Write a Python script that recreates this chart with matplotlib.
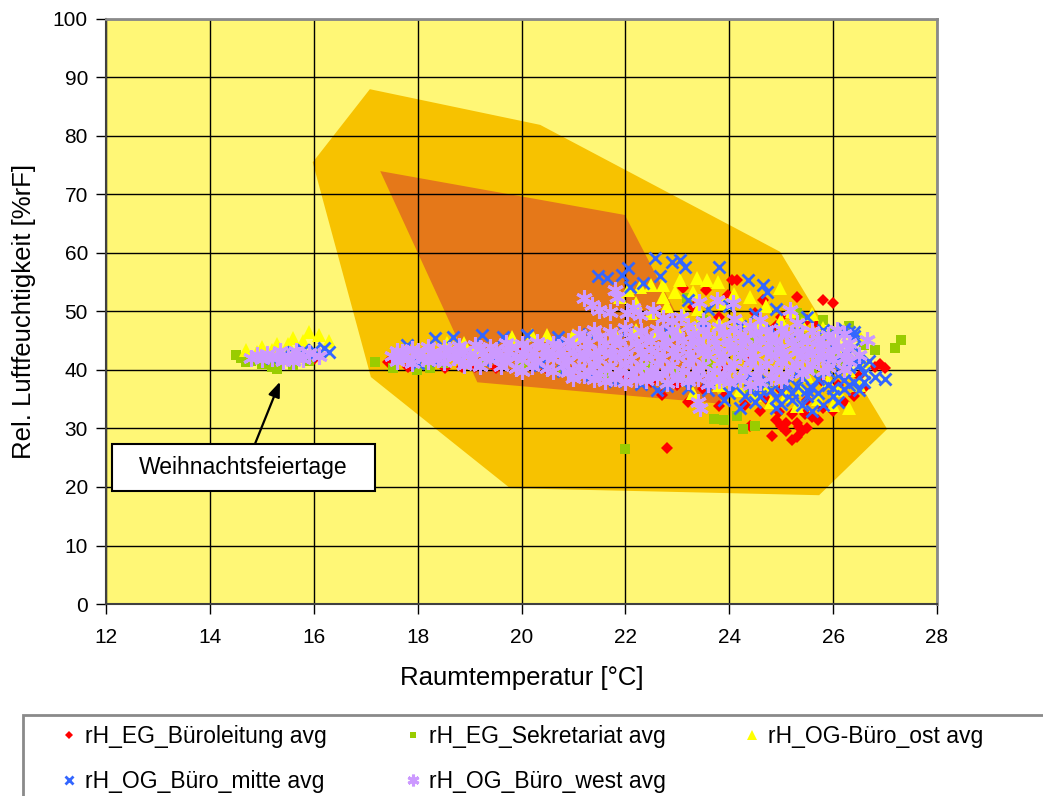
import matplotlib
matplotlib.use("Agg")
import matplotlib.pyplot as plt
from matplotlib.patches import Polygon, Rectangle

plt.rcParams['font.family'] = ['Liberation Sans', 'DejaVu Sans']

# ---------------- data ----------------
x_ticks = [12, 14, 16, 18, 20, 22, 24, 26, 28]
y_ticks = [0, 10, 20, 30, 40, 50, 60, 70, 80, 90, 100]

outer_zone_x = [17.08, 20.36, 24.98, 27.04, 25.73, 19.78, 17.10, 15.98]
outer_zone_y = [88.0, 81.9, 60.2, 29.9, 18.6, 19.8, 38.8, 75.5]
inner_zone_x = [17.28, 21.99, 23.88, 19.15]
inner_zone_y = [74.0, 66.5, 34.2, 37.9]

red_x = [14.8, 15.0, 15.5, 15.8, 16.0,
         17.43, 17.81, 18.53, 18.85, 19.1, 19.5, 20.02, 20.5, 21.0, 21.5, 22.0, 22.5, 23.0, 23.5,
         23.9, 24.3, 24.4, 24.6, 24.82, 24.9, 25.0, 25.1, 25.2, 25.3, 25.4, 25.3, 25.5, 25.2, 25.6,
         25.8, 26.0, 26.2, 26.4, 26.6, 26.5, 26.8, 27.0, 26.9, 25.0, 24.7, 25.5, 26.1, 25.8, 22.8,
         23.8, 23.2, 22.7, 23.9, 24.4, 22.3, 25.1, 25.35, 25.45, 24.95, 25.7,
         24.05, 24.15, 23.56, 23.1, 23.98, 24.65, 25.3, 25.8, 26.0, 23.3, 24.5, 25.0, 25.5, 23.8,
         24.9, 25.7]
red_y = [42.3, 42.0, 41.5, 42.0, 41.8,
         41.4, 40.5, 40.3, 40.5, 40.5, 40.3, 43.4, 40.2, 39.8, 39.0, 38.5, 38.0, 37.5, 36.8,
         35.5, 34.0, 30.5, 33.0, 28.7, 31.5, 30.5, 29.5, 28.0, 28.5, 29.5, 31.0, 30.0, 32.5, 32.0,
         33.5, 33.0, 34.5, 35.5, 37.0, 39.0, 40.5, 40.3, 41.0, 36.5, 35.0, 34.8, 37.5, 38.0, 26.7,
         33.8, 34.5, 35.8, 40.5, 41.5, 40.0, 31.0, 30.2, 32.5, 32.8, 31.5,
         55.4, 55.4, 53.7, 54.0, 52.8, 52.0, 52.5, 52.0, 51.4, 50.8, 49.8, 49.0, 48.5, 49.0,
         47.5, 47.8]

green_x = [14.5, 14.6, 14.8, 15.0, 15.2, 15.3, 15.6, 15.9, 16.0, 14.7,
           17.18, 17.53, 17.98, 18.24, 18.5, 19.2, 20.0, 20.8, 21.6, 22.4, 23.0, 23.6, 24.2, 24.8,
           25.4, 25.9, 26.3, 22.0, 23.7, 23.9, 24.15, 24.27, 24.5, 26.8, 27.2, 27.3, 26.6, 23.18,
           25.3, 25.36, 25.0, 23.5, 22.8, 24.5, 25.8, 26.0, 25.6, 24.4, 23.2, 26.2]
green_y = [42.5, 42.0, 41.5, 41.0, 40.5, 40.2, 40.8, 41.5, 42.5, 41.3,
           41.4, 40.3, 40.0, 40.3, 41.2, 41.0, 40.5, 40.0, 39.5, 40.5, 39.5, 41.0, 42.5, 44.0,
           45.5, 46.5, 47.5, 26.5, 31.6, 31.5, 32.1, 29.9, 30.5, 43.4, 43.8, 45.1, 44.2, 52.3,
           49.7, 49.1, 47.5, 48.5, 45.8, 45.5, 48.5, 43.0, 40.0, 37.0, 38.0, 41.5]

yellow_x = [14.7, 15.0, 15.3, 15.6, 15.9, 16.1, 16.3, 15.2, 15.5, 15.8, 14.9,
            18.56, 18.9, 19.1, 19.82, 20.2, 20.5, 21.0, 21.4, 21.8, 22.2, 22.6, 23.0, 23.4, 23.8,
            24.2, 24.6, 25.0, 25.4, 25.8, 26.2, 26.5, 26.6, 26.3,
            22.05, 22.28, 22.5, 22.72, 22.95, 23.05, 23.3, 23.37, 23.57, 23.78, 24.98, 22.72, 22.2,
            22.8, 23.4, 23.9, 24.4, 24.7, 25.2, 23.1, 22.5, 21.9, 24.1, 25.6,
            23.8, 24.2, 24.5, 24.8, 25.1, 25.4, 25.7, 26.0, 26.3, 25.3, 24.7, 26.1, 26.5, 25.9, 25.5,
            24.3, 23.3]
yellow_y = [43.5, 44.0, 44.5, 45.5, 46.5, 46.0, 45.0, 43.5, 44.5, 45.0, 43.0,
            44.6, 44.6, 43.9, 45.6, 46.0, 46.0, 46.0, 46.5, 46.2, 46.8, 46.4, 47.0, 47.6, 48.0,
            48.6, 48.2, 48.5, 47.8, 47.2, 46.8, 46.0, 41.5, 40.0,
            53.7, 54.2, 54.5, 54.5, 53.3, 55.4, 53.3, 55.7, 55.4, 55.0, 54.0, 52.5, 51.5,
            51.0, 50.5, 51.5, 52.5, 51.0, 50.0, 49.5, 49.8, 52.5, 53.0, 49.5,
            37.5, 36.5, 35.8, 34.5, 35.5, 36.8, 35.0, 34.0, 33.5, 33.8, 37.5, 36.5, 37.5, 38.2, 39.0,
            38.8, 36.0]

blue_x = [15.4, 15.6, 15.8, 16.0, 16.2, 16.3, 15.9, 15.2,
          17.8, 18.33, 18.68, 19.24, 19.65, 20.1, 20.7, 21.3, 22.0, 22.8, 23.5, 24.2, 24.8, 25.3,
          25.9, 26.3, 26.4,
          18.0, 18.4, 18.8, 19.45, 19.84, 20.36, 20.8, 21.3, 21.8, 22.3, 22.8, 23.2, 23.6, 24.0,
          24.3, 24.6, 24.9, 25.2, 25.5, 25.8, 25.6, 26.0, 25.0, 24.5, 24.2, 26.2, 26.4, 26.6, 26.8,
          27.0, 26.3, 26.7, 25.7, 25.9, 26.1, 25.4, 25.1, 24.7, 24.4, 26.5, 26.2, 25.9, 26.4, 26.0,
          26.4, 25.8, 22.6, 23.9, 24.1, 23.4,
          25.6, 25.9, 26.2, 26.5, 25.3, 26.0, 26.6, 24.8, 25.2,
          24.4, 24.6, 25.0, 25.3, 25.5, 25.7, 26.0, 26.3, 26.5, 26.1, 25.4, 24.9,
          21.47, 21.64, 21.93, 22.05, 22.09, 22.34, 22.57, 22.67, 22.9, 23.05, 23.15, 23.8, 24.36,
          24.65, 24.72, 23.2, 24.0, 24.5, 23.6, 24.9, 25.5, 26.2]
blue_y = [42.5, 43.0, 43.5, 43.5, 43.8, 43.0, 42.5, 42.0,
          44.3, 45.4, 45.6, 46.0, 45.6, 46.0, 45.6, 46.2, 46.5, 46.8, 47.2, 47.5, 47.0, 46.5,
          46.0, 46.5, 45.8,
          41.2, 41.7, 42.9, 41.7, 42.6, 40.9, 39.8, 38.8, 38.2, 37.6, 37.3, 37.0, 36.5, 36.0,
          35.5, 36.8, 35.2, 36.0, 35.5, 34.0, 33.0, 35.5, 34.2, 34.5, 33.5, 36.8, 38.0, 39.5, 38.8,
          38.4, 40.5, 41.5, 38.5, 39.8, 39.2, 38.8, 37.8, 38.3, 39.0, 42.2, 43.0, 42.0, 44.0, 44.5,
          46.5, 46.8, 36.5, 34.8, 37.5, 38.8,
          37.0, 37.5, 38.3, 40.8, 39.5, 41.0, 38.0, 36.5, 34.8,
          36.5, 35.5, 36.2, 37.2, 36.5, 36.0, 37.0, 37.5, 36.5, 34.5, 34.0, 33.5,
          56.0, 55.7, 56.2, 57.4, 54.2, 54.9, 59.1, 56.0, 58.5, 58.8, 57.6, 57.6, 55.4,
          54.5, 53.3, 52.0, 51.0, 49.5, 50.5, 50.5, 49.0, 47.0]

purple_x = [14.9, 15.1, 15.3, 15.5, 15.7, 15.9, 16.1, 15.0, 15.4, 15.6, 15.2, 15.8, 14.8, 15.35, 15.65,
            17.6, 17.9, 18.2, 18.5, 18.8, 19.1, 19.4, 19.7, 20.0, 20.3, 20.6, 20.9, 21.2, 21.5, 21.8,
            22.1, 22.4, 22.7, 23.0, 23.3, 23.6, 23.9, 24.2, 24.5, 24.8, 25.1, 25.4, 25.7, 26.0, 26.3,
            17.7, 18.0, 18.3, 18.6, 18.9, 19.2, 19.5, 19.8, 20.1, 20.4, 20.7, 21.0, 21.3, 21.6, 21.9,
            22.2, 22.5, 22.8, 23.1, 23.4, 23.7, 24.0, 24.3, 24.6, 24.9, 25.2, 25.5, 25.8, 26.1,
            17.5, 17.75, 18.0, 18.25, 18.5, 18.75, 19.0, 19.25, 19.5, 19.75, 20.0, 20.25, 20.5, 20.75,
            21.0, 21.25, 21.5, 21.75, 22.0, 22.25, 22.5, 22.75, 23.0, 23.25, 23.5, 23.75, 24.0, 24.25,
            24.5, 24.75, 25.0, 25.25, 25.5, 25.75, 26.0, 26.25, 26.5,
            17.8, 18.1, 18.4, 18.7, 19.0, 19.3, 19.6, 19.9, 20.2, 20.5, 20.8, 21.1, 21.4, 21.7, 22.0,
            22.3, 22.6, 22.9, 23.2, 23.5, 23.8, 24.1, 24.4, 24.7, 25.0, 25.3, 25.6, 25.9, 26.2,
            17.6, 17.9, 18.2, 18.5, 18.8, 19.1, 19.4, 19.7, 20.0, 20.3, 20.6, 20.9, 21.2, 21.5, 21.8,
            22.1, 22.4, 22.7, 23.0, 23.3, 23.6, 23.9, 24.2, 24.5, 24.8, 25.1, 25.4, 25.7, 26.0, 26.3,
            18.9, 19.2, 20.0, 20.6, 21.0, 21.3, 21.6, 21.9, 22.2, 22.5, 22.8, 23.1, 23.4, 23.7, 24.0,
            24.3, 24.6, 24.9, 25.2, 25.5, 25.8,
            19.6, 19.9, 20.2, 20.5, 20.8, 21.1, 21.4, 21.7, 22.0, 22.3, 22.6, 22.9, 23.2, 23.5, 23.8,
            24.1, 24.4, 24.7, 25.0, 25.3, 25.6, 25.9, 26.2,
            20.9, 21.2, 21.5, 21.8, 22.1, 22.4, 22.7, 23.0, 23.3, 23.6, 23.9, 24.2, 24.5, 24.8, 25.1, 25.4,
            21.0, 21.4, 21.8, 22.2, 22.6, 23.0, 23.4, 23.8, 24.2, 24.6, 25.0,
            21.6, 22.0, 22.4, 22.8, 23.2, 23.6, 24.0, 24.4,
            23.43, 23.4,
            21.1, 21.7, 22.3, 22.9, 23.5, 24.1, 24.7, 25.3, 25.9,
            21.4, 22.0, 22.6, 23.2, 23.8, 24.4, 25.0, 25.6, 26.2, 26.65, 23.5, 24.1, 24.6, 25.3, 22.9,
            21.2, 21.35, 21.5, 21.7, 21.8, 21.84, 22.03, 22.15, 22.28, 22.54, 22.72, 23.08, 23.42,
            23.76, 24.07, 25.17, 26.07]
purple_y = [42.5, 42.8, 42.4, 42.3, 42.6, 42.9, 42.4, 41.8, 41.5, 41.6, 42.0, 41.9, 42.0, 43.2, 43.3,
            43.2, 43.6, 43.9, 43.7, 44.1, 44.3, 44.0, 44.6, 44.4, 44.8, 44.5, 45.0, 45.3, 45.6, 45.4,
            45.8, 45.5, 46.0, 45.7, 46.2, 45.9, 46.3, 46.0, 46.4, 45.8, 46.1, 45.6, 45.3, 45.0, 44.6,
            43.0, 43.3, 43.1, 43.5, 43.3, 43.7, 43.5, 43.9, 43.7, 44.1, 43.9, 44.3, 44.6, 44.4, 44.8,
            44.6, 45.0, 44.8, 45.2, 44.9, 45.3, 45.0, 45.4, 45.1, 45.0, 44.8, 44.9, 44.4, 44.0,
            42.4, 42.8, 42.5, 42.9, 42.6, 43.0, 42.7, 43.1, 42.8, 43.2, 42.9, 43.3, 43.0, 43.4,
            43.1, 43.6, 43.3, 43.8, 43.5, 44.0, 43.6, 44.1, 43.7, 44.2, 43.8, 44.3, 43.9, 44.4,
            44.0, 44.2, 43.8, 44.1, 43.6, 43.9, 43.4, 43.0, 42.6,
            41.9, 42.1, 41.9, 42.2, 41.9, 42.2, 41.9, 42.3, 42.0, 42.4, 42.1, 42.6, 42.4, 42.8, 42.5,
            42.9, 42.6, 43.0, 42.7, 43.1, 42.8, 43.2, 42.9, 43.2, 42.9, 43.1, 42.7, 42.4, 42.0,
            41.5, 41.2, 41.6, 41.3, 41.7, 41.4, 41.8, 41.5, 41.9, 41.6, 42.0, 41.7, 42.1, 41.8, 42.2,
            41.9, 42.3, 42.0, 42.4, 42.1, 42.5, 42.2, 42.6, 42.3, 42.5, 42.2, 42.4, 42.0, 41.8, 41.5,
            40.9, 40.7, 39.9, 39.8, 40.0, 39.9, 40.1, 39.8, 40.1, 39.9, 40.2, 39.9, 40.2, 39.9, 40.3,
            40.0, 40.2, 40.0, 40.3, 40.0, 39.8,
            40.6, 40.3, 40.7, 40.4, 40.8, 40.5, 40.9, 40.6, 41.0, 40.7, 41.1, 40.8, 41.2, 40.9, 41.3,
            41.0, 41.4, 41.1, 41.3, 41.0, 40.8, 40.5, 40.2,
            39.6, 39.2, 39.5, 39.1, 39.4, 39.0, 39.3, 38.9, 39.2, 38.8, 39.1, 38.7, 39.0, 38.8, 39.2, 39.5,
            38.6, 38.4, 38.7, 38.5, 38.8, 38.4, 38.6, 38.3, 38.5, 38.0, 38.3,
            38.2, 37.9, 38.3, 37.8, 38.1, 37.6, 37.9, 37.5,
            33.5, 34.5,
            46.2, 46.5, 46.6, 46.9, 46.8, 47.0, 46.9, 46.5, 46.0,
            46.8, 47.2, 47.0, 47.5, 47.3, 47.6, 47.0, 46.6, 46.2, 45.1, 48.3, 48.8, 48.5, 48.0, 48.4,
            52.3, 51.1, 50.2, 49.9, 53.7, 52.5, 49.7, 50.6, 49.4, 50.2, 48.9, 49.1, 51.6,
            51.9, 51.4, 50.2, 46.8]

series = [
    ("rH_EG_Büroleitung avg", red_x, red_y, "#FF0000", "D"),
    ("rH_EG_Sekretariat avg", green_x, green_y, "#99CC00", "s"),
    ("rH_OG-Büro_ost avg", yellow_x, yellow_y, "#FFFF00", "^"),
    ("rH_OG_Büro_mitte avg", blue_x, blue_y, "#3366FF", "x"),
    ("rH_OG_Büro_west avg", purple_x, purple_y, "#CC99FF", (6, 2, 0)),
]

# ---------------- figure ----------------
fig = plt.figure(figsize=(10.43, 7.96), dpi=100)
ax = fig.add_axes([106 / 1043, 1 - 604 / 796, (937 - 106) / 1043, (604 - 19) / 796])
ax.set_facecolor("#FFF776")

ax.add_patch(Polygon(list(zip(outer_zone_x, outer_zone_y)), closed=True,
                     facecolor="#F7C200", edgecolor="none", zorder=1))
ax.add_patch(Polygon(list(zip(inner_zone_x, inner_zone_y)), closed=True,
                     facecolor="#E57819", edgecolor="none", zorder=1.1))

handles = []
for label, xs, ys, col, mk in series:
    if mk == "x":
        ln, = ax.plot(xs, ys, linestyle="none", marker="x", ms=9, mew=2.0, color=col, label=label)
    elif mk == (6, 2, 0):
        ln, = ax.plot(xs, ys, linestyle="none", marker=mk, ms=12, mew=2.2, color=col, label=label)
    elif mk == "D":
        ln, = ax.plot(xs, ys, linestyle="none", marker="D", ms=6.5, mew=0, color=col, label=label)
    elif mk == "s":
        ln, = ax.plot(xs, ys, linestyle="none", marker="s", ms=6.5, mew=0, color=col, label=label)
    else:
        ln, = ax.plot(xs, ys, linestyle="none", marker="^", ms=9.5, mew=0, color=col, label=label)
    handles.append(ln)

ax.set_xlim(12, 28)
ax.set_ylim(0, 100)
ax.set_xticks(x_ticks)
ax.set_yticks(y_ticks)
ax.grid(True, color="black", linewidth=1.0)
ax.tick_params(axis="both", direction="out", length=7, width=1, labelsize=15, colors="black", pad=6)
ax.tick_params(axis="x", pad=10)
for side in ["top", "right"]:
    ax.spines[side].set_color("#8A8A8A")
    ax.spines[side].set_linewidth(2)
for side in ["left", "bottom"]:
    ax.spines[side].set_color("#404040")
    ax.spines[side].set_linewidth(1.5)

ax.set_xlabel("Raumtemperatur [°C]", fontsize=18.5, labelpad=14)
ax.set_ylabel("Rel. Luftfeuchtigkeit [%rF]", fontsize=18.5, labelpad=12)

# annotation box
ax.add_patch(Rectangle((12.115, 19.3), 17.18 - 12.115, 27.4 - 19.3, facecolor="white",
                       edgecolor="black", linewidth=1.5, zorder=5))
ax.text(14.65, 23.35, "Weihnachtsfeiertage", ha="center", va="center", fontsize=16.5, zorder=6)
ax.annotate("", xy=(15.35, 38.0), xytext=(14.87, 27.4),
            arrowprops=dict(arrowstyle="-|>,head_width=0.35,head_length=0.9", color="black",
                            lw=1.6, shrinkA=0, shrinkB=0), zorder=6)

# legend frame
fig.patches.append(Rectangle((23 / 1043, -0.05), 1.05, 0.05 + 1 - 715 / 796,
                             transform=fig.transFigure, facecolor="white",
                             edgecolor="#8A8A8A", linewidth=2))
# legend fills column-wise; order so that rows read like the original
order = [0, 3, 1, 4, 2]
leg = fig.legend(handles=[handles[i] for i in order], loc="upper left",
                 bbox_to_anchor=(60 / 1043, 1 - 725 / 796),
                 ncol=3, frameon=False, fontsize=16.5, handlelength=0.8, handletextpad=0.3,
                 columnspacing=3.35, labelspacing=0.95, markerscale=0.7, borderpad=0, borderaxespad=0)

fig.savefig("out.png", dpi=100)
